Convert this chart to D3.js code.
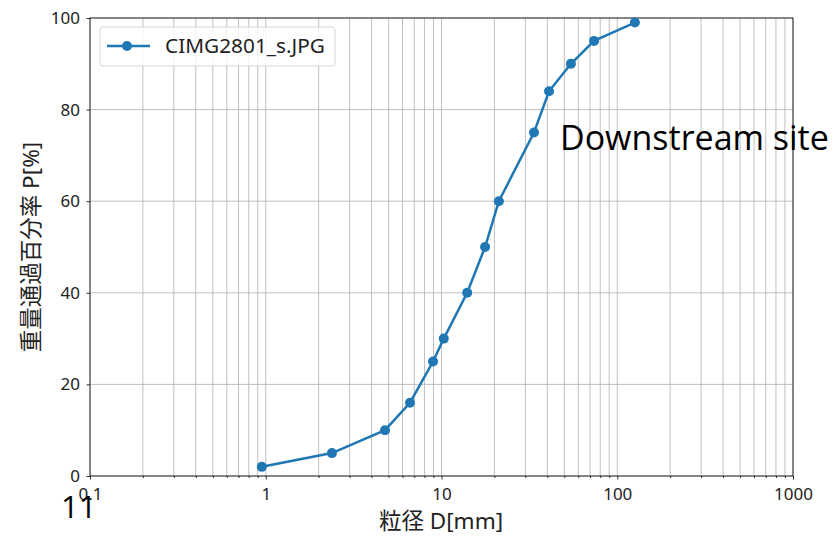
<!DOCTYPE html>
<html>
<head>
<meta charset="utf-8">
<script src="https://cdn.jsdelivr.net/npm/d3@7"></script>
<style>
  body { margin: 0; background: #fff; }
  svg { display: block; }
</style>
</head>
<body>
<div id="chart"></div>
<script>
// grain size (mm) and cumulative passing (%)
const grainSize = [0.95, 2.38, 4.77, 6.62, 8.95, 10.3, 14.0, 17.7, 21.2, 33.6, 40.9, 54.5, 73.8, 126];
const passing = [2, 5, 10, 16, 25, 30, 40, 50, 60, 75, 84, 90, 95, 99];
const xTicks = [0.1, 1, 10, 100, 1000];
const yTicks = [0, 20, 40, 60, 80, 100];
const seriesName = 'CIMG2801_s.JPG';

const W = 835, H = 536;
const margin = { top: 18, right: 42, bottom: 60, left: 90 };
const font = '"Noto Sans", "Noto Sans CJK JP", sans-serif';
const blue = '#1f77b4';

const svg = d3.select('#chart').append('svg')
  .attr('width', W)
  .attr('height', H);

const x = d3.scaleLog()
  .domain([0.1, 1000])
  .range([margin.left, W - margin.right]);

const y = d3.scaleLinear()
  .domain([0, 100])
  .range([H - margin.bottom, margin.top]);

// minor + major x positions for grid
const xGrid = [];
for (let e = -1; e < 3; e++) {
  for (let m = 1; m < 10; m++) xGrid.push(m * Math.pow(10, e));
}
xGrid.push(1000);

const grid = svg.append('g').attr('stroke', '#b0b0b0').attr('stroke-width', 0.8);
grid.selectAll('line.vx')
  .data(xGrid)
  .enter().append('line')
  .attr('x1', d => x(d)).attr('x2', d => x(d))
  .attr('y1', margin.top).attr('y2', H - margin.bottom);
grid.selectAll('line.hy')
  .data(yTicks)
  .enter().append('line')
  .attr('x1', margin.left).attr('x2', W - margin.right)
  .attr('y1', d => y(d)).attr('y2', d => y(d));

// X axis
svg.append('g')
  .attr('transform', `translate(0,${H - margin.bottom})`)
  .call(d3.axisBottom(x).tickValues(xTicks).tickFormat(d => String(d)).tickSize(3.5).tickPadding(8));
svg.append('g')
  .attr('transform', `translate(0,${H - margin.bottom})`)
  .call(d3.axisBottom(x).tickValues(xGrid.filter(d => !xTicks.includes(d))).tickFormat('').tickSize(2))
  .select('.domain').remove();

// Y axis
svg.append('g')
  .attr('transform', `translate(${margin.left},0)`)
  .call(d3.axisLeft(y).tickValues(yTicks).tickSize(3.5).tickPadding(6.5));

svg.selectAll('.tick text')
  .attr('font-family', font)
  .attr('font-size', '17px')
  .attr('fill', '#222');
svg.selectAll('.tick line').attr('stroke', '#000').attr('stroke-width', 0.8);
svg.selectAll('.domain').remove();

// frame
svg.append('rect')
  .attr('x', margin.left).attr('y', margin.top)
  .attr('width', W - margin.right - margin.left)
  .attr('height', H - margin.bottom - margin.top)
  .attr('fill', 'none').attr('stroke', '#000').attr('stroke-width', 0.8);

// line + markers
const pts = grainSize.map((g, i) => [g, passing[i]]);
svg.append('path')
  .datum(pts)
  .attr('fill', 'none')
  .attr('stroke', blue)
  .attr('stroke-width', 2.5)
  .attr('d', d3.line().x(d => x(d[0])).y(d => y(d[1])));
svg.selectAll('circle.pt')
  .data(pts)
  .enter().append('circle')
  .attr('cx', d => x(d[0])).attr('cy', d => y(d[1]))
  .attr('r', 5).attr('fill', blue);

// legend
const lg = svg.append('g').attr('transform', `translate(${margin.left + 10},${margin.top + 9})`);
lg.append('rect')
  .attr('width', 235).attr('height', 39).attr('rx', 3)
  .attr('fill', '#fff').attr('fill-opacity', 0.8)
  .attr('stroke', '#d6d6d6');
lg.append('line')
  .attr('x1', 7).attr('x2', 50).attr('y1', 19).attr('y2', 19)
  .attr('stroke', blue).attr('stroke-width', 2.5);
lg.append('circle').attr('cx', 27).attr('cy', 19).attr('r', 5).attr('fill', blue);
lg.append('text')
  .attr('x', 65).attr('y', 19).attr('dy', '0.35em')
  .attr('font-family', font).attr('font-size', '20.8px').attr('fill', '#222')
  .text(seriesName);

// axis labels
svg.append('text')
  .attr('x', 441).attr('y', H - 7)
  .attr('text-anchor', 'middle')
  .attr('font-family', font).attr('font-size', '22.5px').attr('fill', '#222')
  .text('粒径 D[mm]');
svg.append('text')
  .attr('transform', `translate(39,${(margin.top + H - margin.bottom) / 2}) rotate(-90)`)
  .attr('text-anchor', 'middle')
  .attr('font-family', font).attr('font-size', '22.5px').attr('fill', '#222')
  .text('重量通過百分率 P[%]');

// annotations
svg.append('text')
  .attr('x', 560).attr('y', 150)
  .attr('font-family', '"Open Sans", sans-serif').attr('font-size', '34px').attr('fill', '#000')
  .text('Downstream site');
svg.append('text')
  .attr('x', 61).attr('y', 518)
  .attr('font-family', '"Open Sans", sans-serif').attr('font-size', '31px').attr('fill', '#000')
  .text('11');
</script>
</body>
</html>
